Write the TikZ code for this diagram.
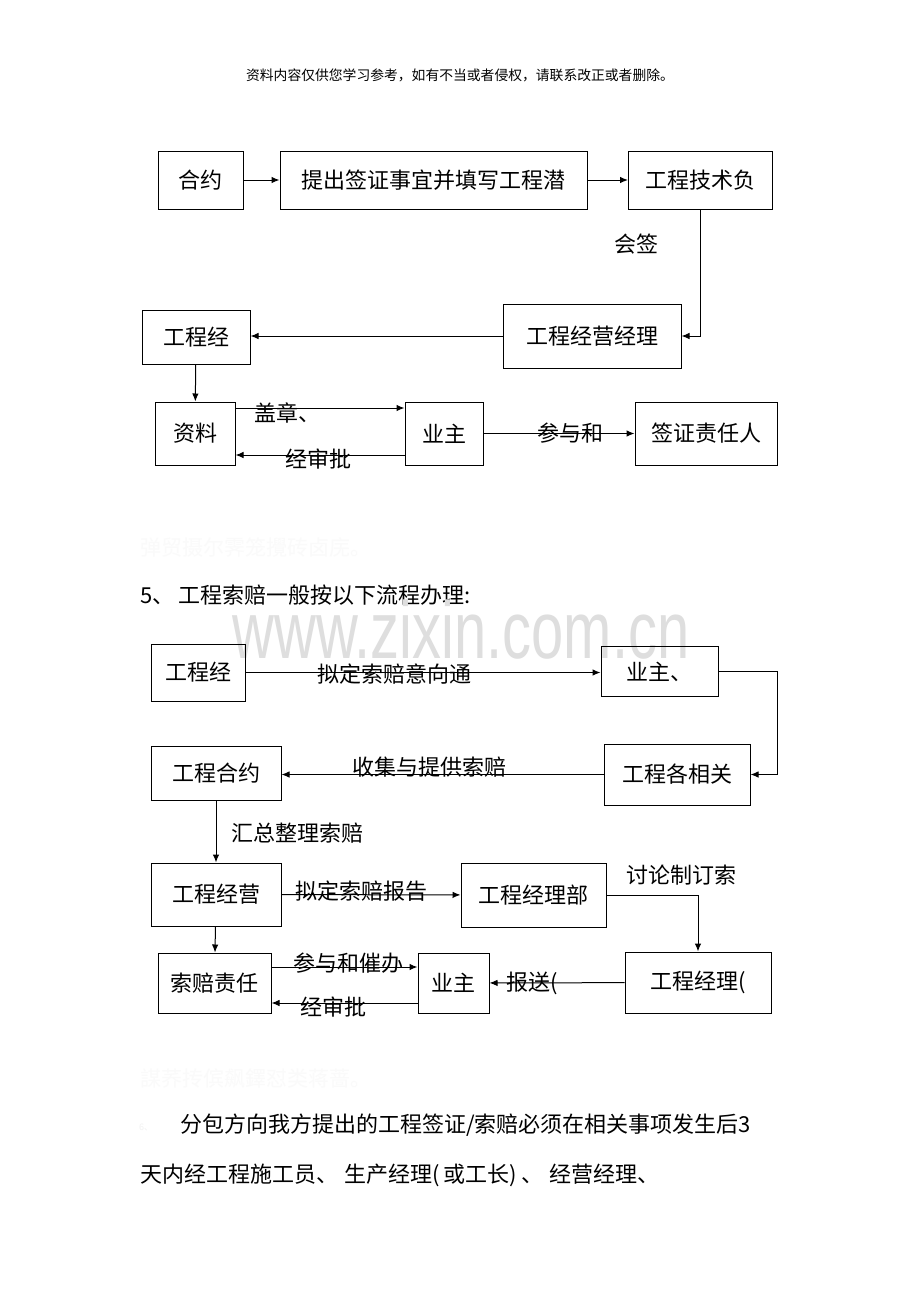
\documentclass[tikz,border=0pt]{standalone}
\usepackage{fontspec}
\setmainfont{Noto Sans CJK SC}
\newfontfamily\wmfont{Liberation Sans}
\usetikzlibrary{arrows.meta}

\tikzset{
	box/.style = {draw, line width = 1pt, inner sep = 0pt, font = \fontsize{22}{22}\selectfont},
	lbl/.style = {inner sep = 0pt, anchor = west, font = \fontsize{22}{22}\selectfont},
	flow/.style = {->, line width = 1pt}
}

\begin{document}
\begin{tikzpicture}[> = {Latex[length = 8pt, width = 6.5pt]}, x = 1pt, y = -1pt]

	\useasboundingbox [fill = white] (0, 0) rectangle (920, 1302);

	% Page header

	\node (header) [inner sep = 0pt, font = \fontsize{13.8}{14}\selectfont] at (460, 75) {资料内容仅供您学习参考，如有不当或者侵权，请联系改正或者删除。};

	% Visa flow: boxes

	\node (hy1) [box, minimum width = 85, minimum height = 58] at (200.5, 180) {合约};
	\node (tc) [box, minimum width = 307, minimum height = 58] at (433.5, 180) {提出签证事宜并填写工程潜};
	\node (js) [box, minimum width = 144, minimum height = 58] at (700.5, 180) {工程技术负};
	\node (jyjl) [box, minimum width = 178, minimum height = 64] at (592, 336) {工程经营经理};
	\node (gcj1) [box, minimum width = 108, minimum height = 54] at (196, 337) {工程经};
	\node (zl) [box, minimum width = 80, minimum height = 63] at (195, 433.5) {资料};
	\node (yz1) [box, minimum width = 78, minimum height = 63] at (444, 433.5) {业主};
	\node (qzr) [box, minimum width = 142, minimum height = 63] at (706, 433.5) {签证责任人};

	% Visa flow: arrows

	\draw [flow] (hy1) -- (tc);
	\draw [flow] (tc) -- (js);
	\draw [flow] (js.south) |- (jyjl.east);
	\draw [flow] (jyjl.west) -- (jyjl.west -| gcj1.east);
	\draw [flow] (gcj1) -- (zl);
	\draw [flow] ([yshift = 25.5]zl.east) -- ([yshift = 25.5]yz1.west);
	\draw [flow] ([yshift = -21.5]yz1.west) -- ([yshift = -21.5]zl.east);
	\draw [flow] (yz1) -- (qzr);

	% Visa flow: labels

	\node (huiqian) [lbl] at (614, 244) {会签};
	\node (gaizhang) [lbl] at (254, 413) {盖章、};
	\node (shenpi1) [lbl] at (285, 459) {经审批};
	\node (canyu1) [lbl] at (537, 433) {参与和};

	% Faint line and section title

	\node (faint1) [lbl, text = black!2, font = \fontsize{21}{21}\selectfont] at (140, 548) {弹贸摄尔霁笼攪砖卤庑。};
	\node (title) [lbl] at (140, 595) {5、\hspace{4pt}工程索赔一般按以下流程办理:};

	% Watermark

	\node (wm) [inner sep = 0pt, text = black!13, font = \wmfont\fontsize{81}{81}\selectfont, xscale = 0.715] at (461, 630) {www.zixin.com.cn};

	% Claim flow: boxes

	\node (gcj2) [box, minimum width = 94, minimum height = 57] at (198, 672.5) {工程经};
	\node (yz2) [box, minimum width = 117, minimum height = 50] at (659.5, 671.5) {业主、};
	\node (gxg) [box, minimum width = 146, minimum height = 61] at (677, 774.5) {工程各相关};
	\node (hy2) [box, minimum width = 130, minimum height = 54] at (216, 773) {工程合约};
	\node (jy) [box, minimum width = 130, minimum height = 63] at (216, 894.5) {工程经营};
	\node (jlb) [box, minimum width = 145, minimum height = 64] at (533.5, 895) {工程经理部};
	\node (jl) [box, minimum width = 146, minimum height = 61] at (698, 982.5) {工程经理(};
	\node (szr) [box, minimum width = 113, minimum height = 60] at (214.5, 983) {索赔责任};
	\node (yz3) [box, minimum width = 71, minimum height = 60] at (453.5, 983) {业主};

	% Claim flow: arrows

	\draw [flow] (gcj2.east) -- (gcj2.east -| yz2.west);
	\draw [flow] (yz2.east) -- ++ (59, 0) |- (gxg.east);
	\draw [flow] (gxg.west) -- (gxg.west -| hy2.east);
	\draw [flow] (hy2) -- (jy);
	\draw [flow] (jy) -- (jlb);
	\draw [flow] (jlb.east) -| (jl.north);
	\draw [flow] (jy) -- (szr);
	\draw [flow] ([yshift = 16]szr.east) -- ([yshift = 16]yz3.west);
	\draw [flow] ([yshift = -20]yz3.west) -- ([yshift = -20]szr.east);
	\draw [flow] (jl) -- (yz3);

	% Claim flow: labels

	\node (nidingyx) [lbl] at (317, 674) {拟定索赔意向通};
	\node (shouji) [lbl] at (352, 767) {收集与提供索赔};
	\node (huizong) [lbl] at (231, 833) {汇总整理索赔};
	\node (nidingbg) [lbl] at (295, 891) {拟定索赔报告};
	\node (taolun) [lbl] at (626, 875) {讨论制订索};
	\node (canyu2) [lbl] at (293, 963) {参与和催办};
	\node (shenpi2) [lbl] at (300, 1007) {经审批};
	\node (baosong) [lbl] at (506, 983) {报送(};

	% Closing text

	\node (faint2) [lbl, text = black!2, font = \fontsize{21}{21}\selectfont] at (140, 1078) {謀荞抟傧飙鐸怼类蒋蔷。};
	\node (num6) [lbl, text = black!5, font = \fontsize{9}{9}\selectfont] at (139, 1127) {6、};
	\node (para1) [lbl] at (180, 1125) {分包方向我方提出的工程签证/索赔必须在相关事项发生后3};
	\node (para2) [lbl] at (140, 1175) {天内经工程施工员、\hspace{6pt}生产经理(\hspace{4pt}或工长)\hspace{4pt}、\hspace{6pt}经营经理、};

\end{tikzpicture}
\end{document}
